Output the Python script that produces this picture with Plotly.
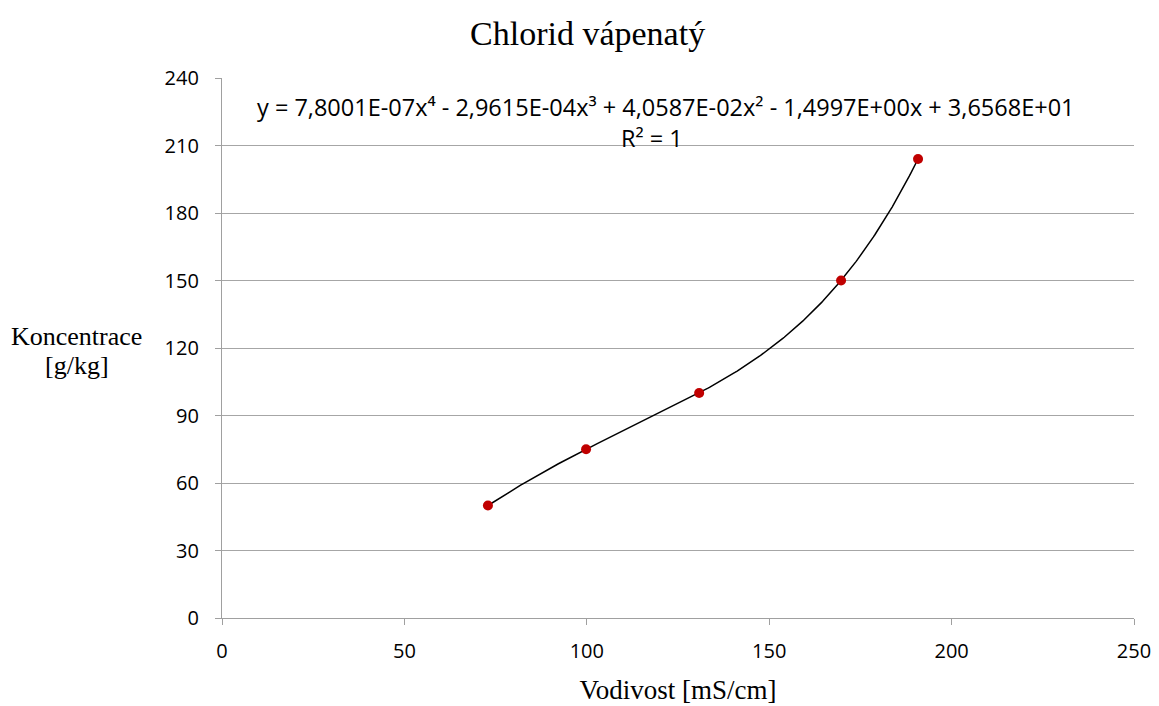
import numpy as np
import plotly.graph_objects as go

# Data
conductivity = [72.9, 99.8, 130.8, 169.7, 190.8]      # Vodivost [mS/cm]
concentration = [50, 75, 100, 150, 204]              # Koncentrace [g/kg]
x_ticks = [0, 50, 100, 150, 200, 250]
y_ticks = [0, 30, 60, 90, 120, 150, 180, 210, 240]
equation_text = "y = 7,8001E-07x⁴ - 2,9615E-04x³ + 4,0587E-02x² - 1,4997E+00x + 3,6568E+01"
r2_text = "R² = 1"

# 4th-order polynomial trendline fitted to the data
coef = np.polyfit(conductivity, concentration, 4)
xs = np.linspace(min(conductivity), max(conductivity), 300)
ys = np.polyval(coef, xs)

fig = go.Figure()
fig.add_trace(go.Scatter(x=xs, y=ys, mode="lines",
                         line=dict(color="black", width=1.5), hoverinfo="skip",
                         showlegend=False))
fig.add_trace(go.Scatter(x=conductivity, y=concentration, mode="markers",
                         marker=dict(color="#C00000", size=10), showlegend=False))

sans = "Open Sans"
serif = "Liberation Serif"

fig.update_layout(
    width=1159, height=706,
    margin=dict(l=222, r=25, t=78, b=88),
    paper_bgcolor="white", plot_bgcolor="white",
    title=dict(text="Chlorid vápenatý", x=0.507, xanchor="center", y=0.953, yanchor="middle",
               font=dict(family=serif, size=34, color="black")),
    xaxis=dict(range=[0, 250], tickvals=x_ticks, showgrid=False, zeroline=False,
               showline=True, linecolor="#a0a0a0", linewidth=1.3, automargin=False,
               ticks="outside", ticklen=6, tickcolor="#a0a0a0", ticklabelstandoff=9,
               tickfont=dict(family=sans, size=20, color="black"),
               title=dict(text="Vodivost [mS/cm]", font=dict(family=serif, size=27, color="black"),
                          standoff=16)),
    yaxis=dict(range=[0, 240], tickvals=y_ticks, showgrid=True, gridcolor="#a6a6a6", gridwidth=1.2,
               zeroline=False, showline=True, linecolor="#a0a0a0", linewidth=1.3, automargin=False,
               ticks="outside", ticklen=6, tickcolor="#a0a0a0", ticklabelstandoff=12,
               tickfont=dict(family=sans, size=20, color="black")),
    annotations=[
        dict(text="Koncentrace", xref="paper", yref="paper", x=-0.159, y=0.521,
             xanchor="center", yanchor="middle", showarrow=False,
             font=dict(family=serif, size=26, color="black")),
        dict(text="[g/kg]", xref="paper", yref="paper", x=-0.159, y=0.467,
             xanchor="center", yanchor="middle", showarrow=False,
             font=dict(family=serif, size=26, color="black")),
        dict(text=equation_text, xref="paper", yref="y", x=0.487, y=227,
             xanchor="center", yanchor="middle", showarrow=False,
             font=dict(family=sans, size=23.5, color="black")),
        dict(text=r2_text, xref="paper", yref="y", x=0.471, y=213.5,
             xanchor="center", yanchor="middle", showarrow=False,
             font=dict(family=sans, size=23.5, color="black")),
    ],
)

fig.write_html("out.html")
